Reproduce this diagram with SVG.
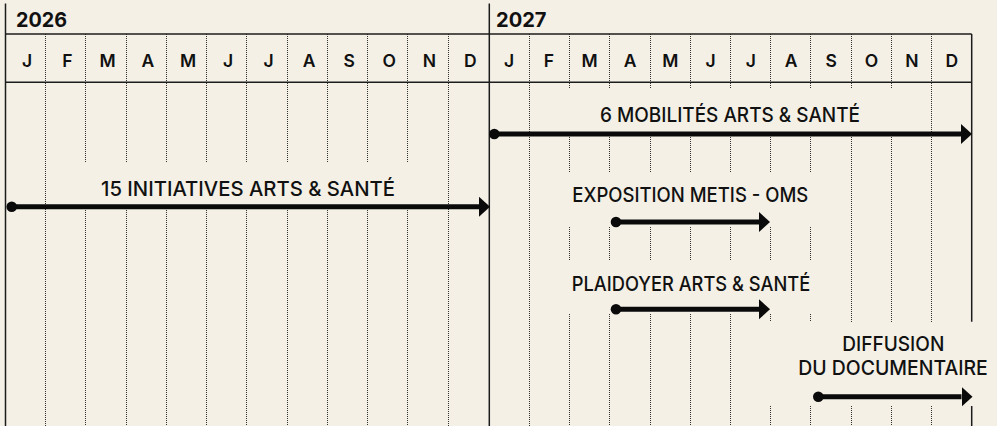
<svg xmlns="http://www.w3.org/2000/svg" width="997" height="426" viewBox="0 0 997 426">
<style>
.bg{fill:#f4f0e6}
.solid{stroke:#1c1c1c;stroke-width:1.5;fill:none}
.dot{stroke:#333;stroke-width:1;stroke-dasharray:1 1;fill:none}
.year{font-family:Inter,"Noto Sans",sans-serif;font-weight:700;font-size:20.5px;fill:#111}
.mon{font-family:Inter,"Noto Sans",sans-serif;font-weight:600;font-size:17.5px;fill:#111;text-anchor:middle}
.lbl{font-family:Inter,"Noto Sans",sans-serif;font-weight:500;font-size:20px;fill:#111;text-anchor:middle}
.arrow{stroke:#0a0a0a;stroke-width:5;fill:none;marker-start:url(#dotm);marker-end:url(#head)}
</style>
<defs>
<marker id="head" markerUnits="userSpaceOnUse" viewBox="0 0 12 22" markerWidth="12" markerHeight="22" refX="0" refY="11" orient="auto"><path d="M0,1 L11,11 L0,21 z" fill="#0a0a0a"/></marker>
<marker id="dotm" markerUnits="userSpaceOnUse" viewBox="0 0 12 12" markerWidth="12" markerHeight="12" refX="6" refY="6" orient="auto"><circle cx="6" cy="6" r="5.3" fill="#0a0a0a"/></marker>
</defs>
<rect class="bg" x="0" y="0" width="997" height="426"/>

<g id="grid">
<!-- month-row dotted separators -->
<path class="dot" d="M45.5 34V82 M85.5 34V82 M126.5 34V82 M166.5 34V82 M206.5 34V82 M246.5 34V82 M287.5 34V82 M327.5 34V82 M367.5 34V82 M407.5 34V82 M448.5 34V82 M529.5 34V82 M569.5 34V82 M609.5 34V82 M650.5 34V82 M690.5 34V82 M730.5 34V82 M770.5 34V82 M810.5 34V82 M851.5 34V82 M891.5 34V82 M931.5 34V82"/>
<!-- 2026 body -->
<path class="dot" d="M45.5 83V426 M448.5 83V426 M85.5 83V162 M85.5 208V426 M126.5 83V162 M126.5 208V426 M166.5 83V162 M166.5 208V426 M206.5 83V162 M206.5 208V426 M246.5 83V162 M246.5 208V426 M287.5 83V162 M287.5 208V426 M327.5 83V162 M327.5 208V426 M367.5 83V162 M367.5 208V426 M407.5 83V162 M407.5 208V426"/>
<!-- 2027 body -->
<path class="dot" d="M529.5 83V426
M569.5 83V89 M569.5 137V172 M569.5 227V261 M569.5 314V426
M609.5 83V89 M609.5 137V172 M609.5 227V261 M609.5 314V426
M650.5 83V89 M650.5 137V172 M650.5 227V261 M650.5 314V426
M690.5 83V89 M690.5 137V172 M690.5 227V261 M690.5 314V426
M730.5 83V89 M730.5 137V172 M730.5 227V261 M730.5 314V426
M770.5 83V89 M770.5 137V172 M770.5 227V261 M770.5 314V322 M770.5 406V426
M810.5 83V89 M810.5 137V172 M810.5 227V261 M810.5 314V322 M810.5 406V426
M851.5 83V89 M851.5 137V322 M851.5 406V426
M891.5 83V89 M891.5 137V322 M891.5 406V426
M931.5 83V322 M931.5 406V426"/>
<!-- solid frame -->
<path class="solid" d="M5.5 3.5V426 M489.3 3.5V426 M5.5 34H971.7 M5.5 82.3H971.7 M971.7 34V321.7 M971.7 406V426"/>
</g>

<g id="years">
<text class="year" x="16" y="26.7" textLength="51" lengthAdjust="spacingAndGlyphs">2026</text>
<text class="year" x="496" y="26.7" textLength="50.5" lengthAdjust="spacingAndGlyphs">2027</text>
</g>

<g id="months">
<text class="mon" x="27.1" y="66.7">J</text>
<text class="mon" x="67.4" y="66.7">F</text>
<text class="mon" x="107.7" y="66.7">M</text>
<text class="mon" x="147.8" y="66.7">A</text>
<text class="mon" x="188" y="66.7">M</text>
<text class="mon" x="228.2" y="66.7">J</text>
<text class="mon" x="268.5" y="66.7">J</text>
<text class="mon" x="309" y="66.7">A</text>
<text class="mon" x="349.2" y="66.7">S</text>
<text class="mon" x="389.2" y="66.7">O</text>
<text class="mon" x="429.5" y="66.7">N</text>
<text class="mon" x="470.3" y="66.7">D</text>
<text class="mon" x="509" y="66.7">J</text>
<text class="mon" x="549" y="66.7">F</text>
<text class="mon" x="589.5" y="66.7">M</text>
<text class="mon" x="630" y="66.7">A</text>
<text class="mon" x="670.3" y="66.7">M</text>
<text class="mon" x="710.6" y="66.7">J</text>
<text class="mon" x="750.8" y="66.7">J</text>
<text class="mon" x="791" y="66.7">A</text>
<text class="mon" x="831.1" y="66.7">S</text>
<text class="mon" x="871.5" y="66.7">O</text>
<text class="mon" x="911.8" y="66.7">N</text>
<text class="mon" x="951.8" y="66.7">D</text>
</g>

<g id="initiatives">
<text class="lbl" x="248" y="196" textLength="294" lengthAdjust="spacingAndGlyphs">15 INITIATIVES ARTS &amp; SANTÉ</text>
</g>
<g id="mobilites">
<text class="lbl" x="730" y="122.3" textLength="260" lengthAdjust="spacingAndGlyphs">6 MOBILITÉS ARTS &amp; SANTÉ</text>
</g>
<g id="exposition">
<text class="lbl" x="690.3" y="202.3" textLength="236" lengthAdjust="spacingAndGlyphs">EXPOSITION METIS - OMS</text>
</g>
<g id="plaidoyer">
<text class="lbl" x="691" y="290.5" textLength="238.5" lengthAdjust="spacingAndGlyphs">PLAIDOYER ARTS &amp; SANTÉ</text>
</g>
<g id="diffusion">
<text class="lbl" x="893.3" y="351.3" textLength="102" lengthAdjust="spacingAndGlyphs">DIFFUSION</text>
<text class="lbl" x="893" y="375" textLength="189.5" lengthAdjust="spacingAndGlyphs">DU DOCUMENTAIRE</text>
</g>

<g id="connectors">
<path class="arrow" d="M11.7 206.7H479"/>
<path class="arrow" d="M494.3 134H961"/>
<path class="arrow" d="M616 222H759"/>
<path class="arrow" d="M616 309.3H759"/>
<path class="arrow" d="M818.3 396.7H961.5"/>
</g>
</svg>
